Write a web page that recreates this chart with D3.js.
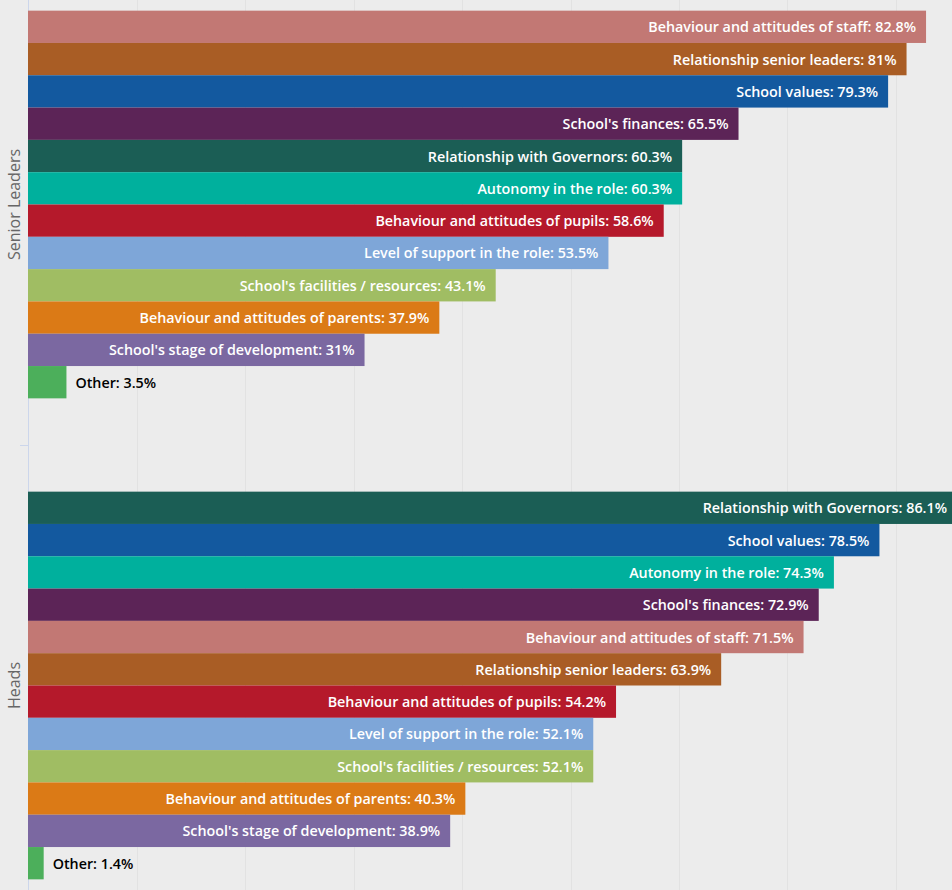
<!DOCTYPE html>
<html>
<head>
<meta charset="utf-8">
<script src="https://cdn.jsdelivr.net/npm/d3@7"></script>
<style>
  html, body { margin: 0; padding: 0; background: #ececec; }
  svg { display: block; }
</style>
</head>
<body>
<svg id="chart" width="952" height="890"></svg>
<script>
// Groups shown on the category axis
const groups = ["Senior Leaders", "Heads"];

// Factors rated by senior leaders (percent)
const seniorLabels = [
  "Behaviour and attitudes of staff", "Relationship senior leaders", "School values",
  "School's finances", "Relationship with Governors", "Autonomy in the role",
  "Behaviour and attitudes of pupils", "Level of support in the role",
  "School's facilities / resources", "Behaviour and attitudes of parents",
  "School's stage of development", "Other"
];
const seniorValues = [82.8, 81, 79.3, 65.5, 60.3, 60.3, 58.6, 53.5, 43.1, 37.9, 31, 3.5];

// Factors rated by heads (percent)
const headsLabels = [
  "Relationship with Governors", "School values", "Autonomy in the role",
  "School's finances", "Behaviour and attitudes of staff", "Relationship senior leaders",
  "Behaviour and attitudes of pupils", "Level of support in the role",
  "School's facilities / resources", "Behaviour and attitudes of parents",
  "School's stage of development", "Other"
];
const headsValues = [86.1, 78.5, 74.3, 72.9, 71.5, 63.9, 54.2, 52.1, 52.1, 40.3, 38.9, 1.4];

// Colour for each factor, kept the same across both groups
const factorNames = [
  "Behaviour and attitudes of staff", "Relationship senior leaders", "School values",
  "School's finances", "Relationship with Governors", "Autonomy in the role",
  "Behaviour and attitudes of pupils", "Level of support in the role",
  "School's facilities / resources", "Behaviour and attitudes of parents",
  "School's stage of development", "Other"
];
const factorColors = [
  "#c27874", "#a95d25", "#13599f", "#5c2457", "#1b5e55", "#00b09d",
  "#b5192b", "#7ea6d8", "#a0bd63", "#db7a16", "#7b68a1", "#4caf5b"
];

const svg = d3.select("#chart");
const W = 952;

const color = d3.scaleOrdinal().domain(factorNames).range(factorColors);

const x = d3.scaleLinear().domain([0, 100]).range([28.5, 28.5 + 1084]);
const y = d3.scaleBand().domain(groups).range([-36, 926]).paddingInner(0).paddingOuter(0);

const groupData = [
  { group: groups[0], labels: seniorLabels, values: seniorValues },
  { group: groups[1], labels: headsLabels, values: headsValues }
];

// Vertical grid lines
const gridTicks = d3.range(10, 100, 10);
svg.append("g").selectAll("line").data(gridTicks).join("line")
  .attr("x1", d => Math.round(x(d)) + 0.5).attr("x2", d => Math.round(x(d)) + 0.5)
  .attr("y1", 0).attr("y2", 890)
  .attr("stroke", "#e2e2e2").attr("stroke-width", 1);

// Category axis with group titles
const yAxis = svg.append("g").attr("transform", "translate(28.5,0)")
  .call(d3.axisLeft(y).tickSize(0).tickFormat(""));
yAxis.select(".domain").attr("stroke", "#ccd6eb").attr("d", "M0,0V890");

// Boundary tick between groups
svg.append("line")
  .attr("x1", 20).attr("x2", 28.5)
  .attr("y1", y(groups[1]) + 0.5).attr("y2", y(groups[1]) + 0.5)
  .attr("stroke", "#ccd6eb");

svg.append("g").selectAll("text").data(groups).join("text")
  .attr("transform", d => `translate(20,${y(d) + y.bandwidth() / 2}) rotate(-90)`)
  .attr("text-anchor", "middle")
  .attr("font-family", "'Open Sans', sans-serif")
  .attr("font-size", 16)
  .attr("fill", "#666666")
  .text(d => d);

const pad = y.bandwidth() * 0.097;

groupData.forEach(g => {
  const rows = g.labels.map((l, i) => ({ label: l, value: g.values[i] }));
  const inner = d3.scaleBand().domain(g.labels)
    .range([y(g.group) + pad, y(g.group) + y.bandwidth() - pad])
    .padding(0);

  const gg = svg.append("g");
  gg.selectAll("rect").data(rows).join("rect")
    .attr("x", x(0) - 0.5)
    .attr("y", d => inner(d.label))
    .attr("width", d => x(d.value) - x(0) + 0.5)
    .attr("height", inner.bandwidth())
    .attr("fill", d => color(d.label));

  gg.selectAll("text").data(rows).join("text")
    .each(function (d) {
      const t = d3.select(this);
      const txt = `${d.label}: ${d.value}%`;
      t.text(txt)
        .attr("font-family", "'Open Sans', sans-serif")
        .attr("font-size", 14.3)
        .attr("font-weight", 600)
        .attr("dominant-baseline", "central")
        .attr("y", inner(d.label) + inner.bandwidth() / 2);
      const w = this.getComputedTextLength();
      const barEnd = x(d.value);
      const barW = barEnd - x(0);
      if (w + 20 < barW) {
        // Inside the bar, right-aligned; bars running past the edge keep the label in view
        t.attr("text-anchor", "end")
          .attr("x", barEnd > W ? W - 5 : barEnd - 10)
          .attr("fill", "#ffffff");
      } else {
        t.attr("text-anchor", "start")
          .attr("x", barEnd + 9)
          .attr("fill", "#000000");
      }
    });
});
</script>
</body>
</html>
